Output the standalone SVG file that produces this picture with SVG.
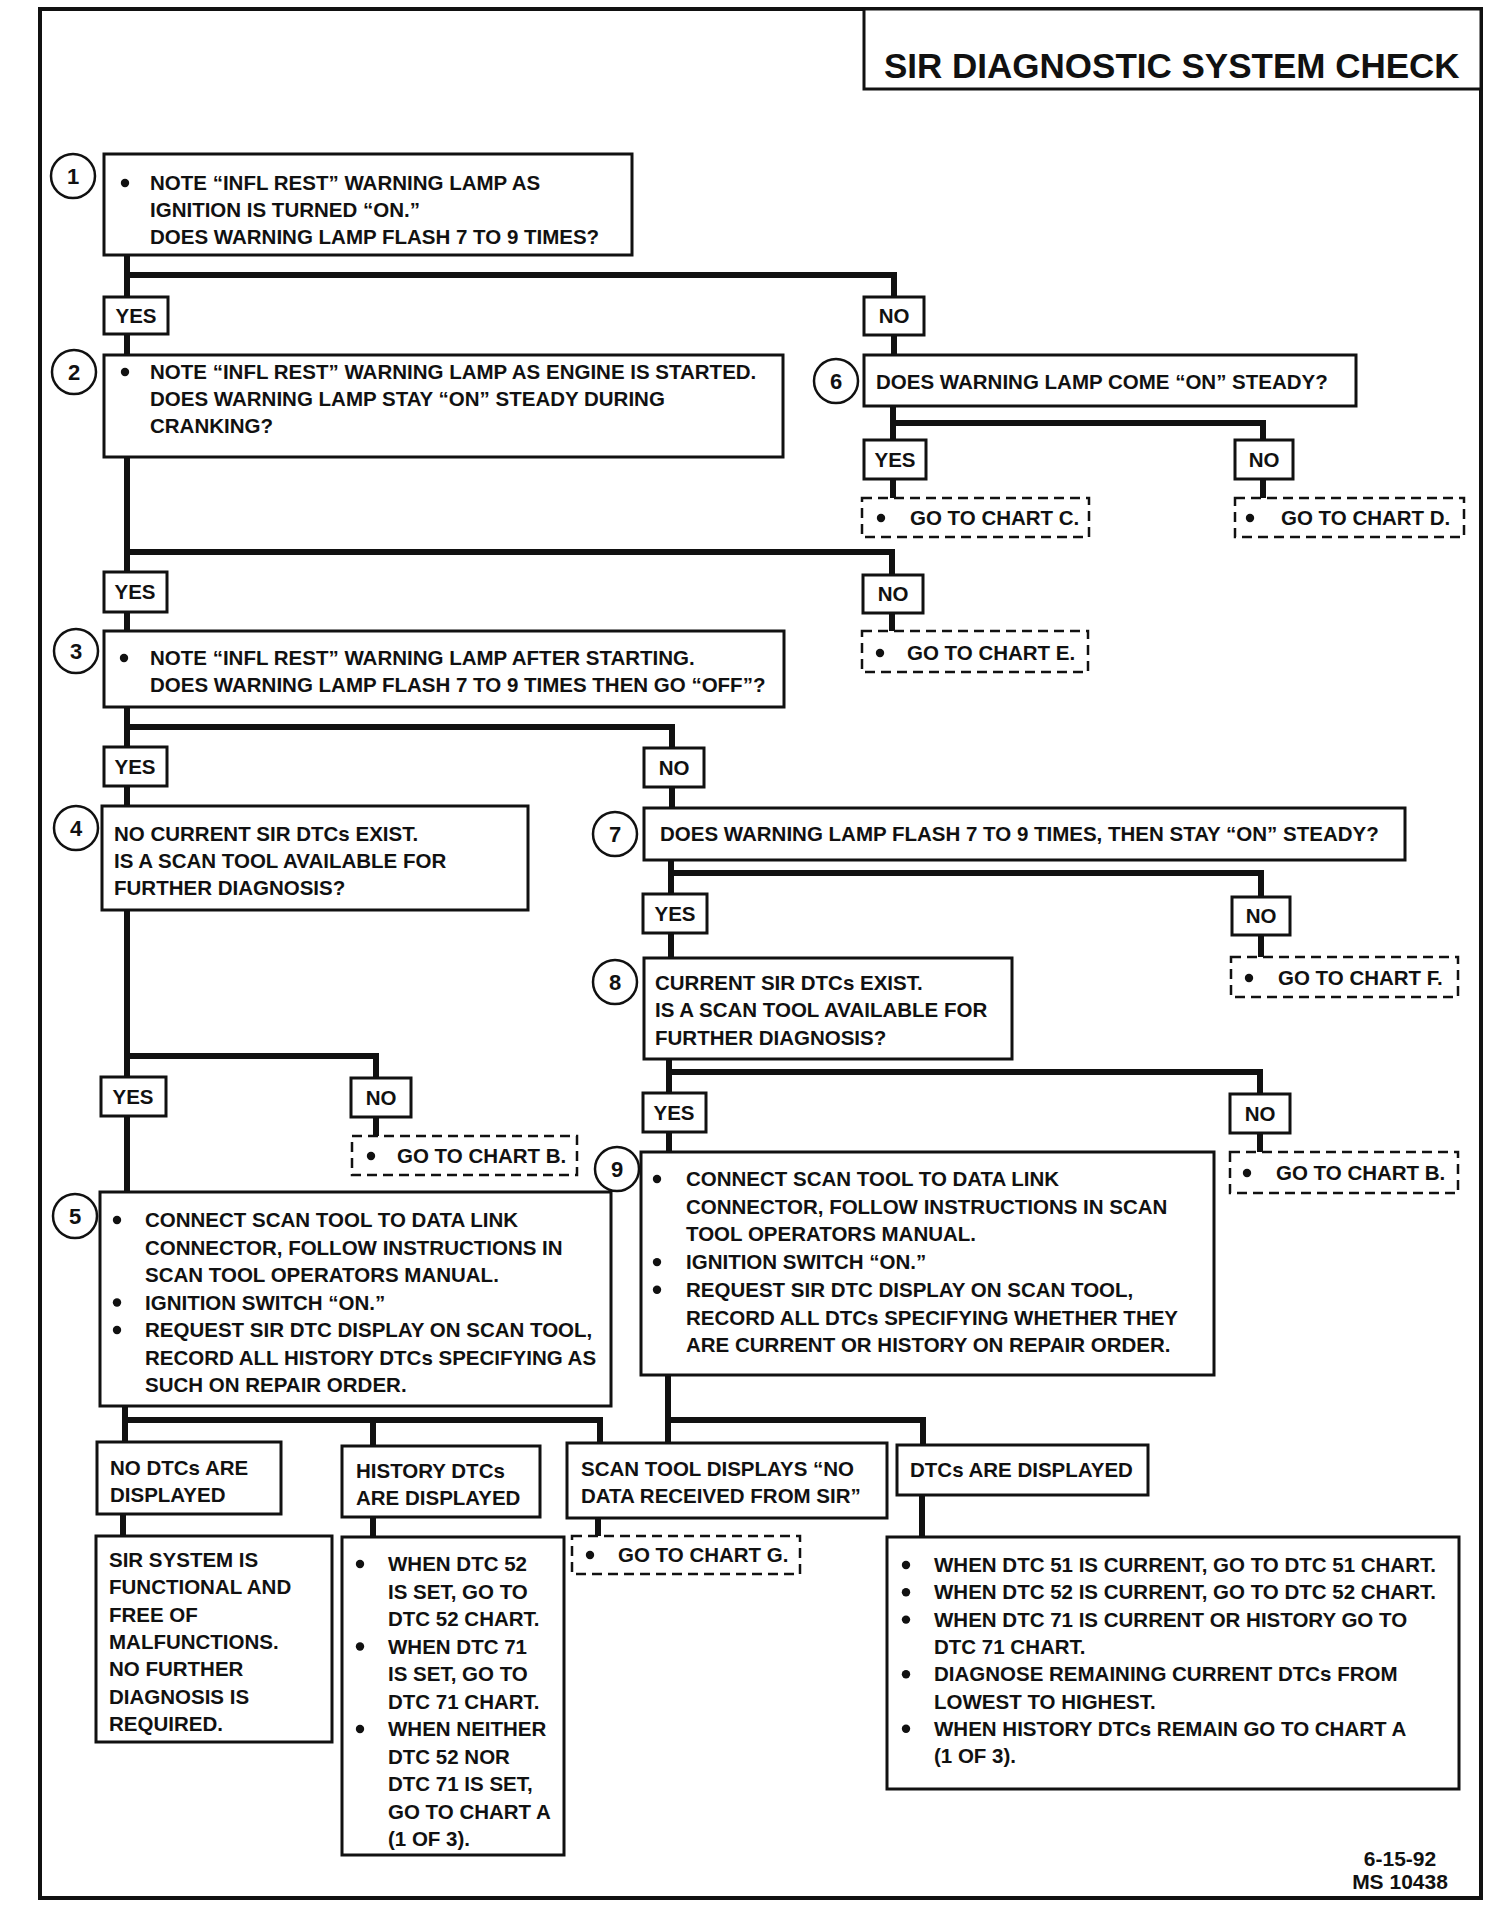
<svg xmlns="http://www.w3.org/2000/svg" width="1504" height="1912" viewBox="0 0 1504 1912">
<style>
text{font-family:"Liberation Sans",Arial,sans-serif;font-weight:bold;font-size:20.5px;fill:#111}
.box{fill:#fff;stroke:#111;stroke-width:3}
.dash{fill:#fff;stroke:#111;stroke-width:2.5;stroke-dasharray:10 6}
.conn{fill:none;stroke:#111;stroke-width:6}
.circ{fill:#fff;stroke:#111;stroke-width:2.5}
.bul{fill:#111}
.c{text-anchor:middle}
.num{text-anchor:middle;font-size:22px}
.title{font-size:35px}
.foot{font-size:21px;text-anchor:middle}
</style>
<rect x="0" y="0" width="1504" height="1912" fill="#fff"/>
<rect x="40" y="9" width="1441" height="1889" fill="none" stroke="#111" stroke-width="4"/>

<g id="connectors">
<path class="conn" d="M127,255 V355"/>
<path class="conn" d="M127,275 H894 V355"/>
<path class="conn" d="M127,457 V631"/>
<path class="conn" d="M127,552 H892 V631"/>
<path class="conn" d="M893,406 V498"/>
<path class="conn" d="M893,423 H1263 V498"/>
<path class="conn" d="M127,707 V806"/>
<path class="conn" d="M127,727 H672 V808"/>
<path class="conn" d="M671,860 V958"/>
<path class="conn" d="M671,873 H1261 V957"/>
<path class="conn" d="M669,1059 V1152"/>
<path class="conn" d="M669,1072 H1260 V1152"/>
<path class="conn" d="M127,910 V1192"/>
<path class="conn" d="M127,1056 H376 V1136"/>
<path class="conn" d="M125,1406 V1443"/>
<path class="conn" d="M125,1420 H600 V1445"/>
<path class="conn" d="M373,1420 V1447"/>
<path class="conn" d="M123,1513 V1536"/>
<path class="conn" d="M373,1516 V1538"/>
<path class="conn" d="M598,1517 V1537"/>
<path class="conn" d="M668,1375 V1445"/>
<path class="conn" d="M668,1420 H923 V1446"/>
<path class="conn" d="M922,1494 V1538"/>
</g>

<g id="title">
<rect class="box" x="864" y="9" width="617" height="80"/>
<text class="title" x="884" y="78">SIR DIAGNOSTIC SYSTEM CHECK</text>
</g>

<g id="step1">
<circle class="circ" cx="73" cy="176" r="22"/><text class="num" x="73" y="184">1</text>
<rect class="box" x="104" y="154" width="528" height="101"/>
<circle class="bul" cx="125" cy="183" r="4.2"/>
<text x="150" y="190">NOTE “INFL REST” WARNING LAMP AS</text>
<text x="150" y="217">IGNITION IS TURNED “ON.”</text>
<text x="150" y="244">DOES WARNING LAMP FLASH 7 TO 9 TIMES?</text>
</g>
<g id="yes1"><rect class="box" x="104" y="297" width="64" height="37"/><text class="c" x="136" y="323">YES</text></g>
<g id="no1"><rect class="box" x="864" y="297" width="60" height="38"/><text class="c" x="894" y="323">NO</text></g>

<g id="step2">
<circle class="circ" cx="74" cy="372" r="22"/><text class="num" x="74" y="380">2</text>
<rect class="box" x="104" y="355" width="679" height="102"/>
<circle class="bul" cx="125" cy="372" r="4.2"/>
<text x="150" y="379">NOTE “INFL REST” WARNING LAMP AS ENGINE IS STARTED.</text>
<text x="150" y="406">DOES WARNING LAMP STAY “ON” STEADY DURING</text>
<text x="150" y="433">CRANKING?</text>
</g>

<g id="step6">
<circle class="circ" cx="836" cy="381" r="22"/><text class="num" x="836" y="389">6</text>
<rect class="box" x="864" y="355" width="492" height="51"/>
<text x="876" y="389">DOES WARNING LAMP COME “ON” STEADY?</text>
</g>
<g id="yes6"><rect class="box" x="864" y="440" width="62" height="39"/><text class="c" x="895" y="467">YES</text></g>
<g id="no6"><rect class="box" x="1235" y="440" width="58" height="39"/><text class="c" x="1264" y="467">NO</text></g>
<g id="chartC"><rect class="dash" x="862" y="498" width="227" height="39"/><circle class="bul" cx="881" cy="518" r="4.2"/><text x="910" y="525">GO TO CHART C.</text></g>
<g id="chartD"><rect class="dash" x="1235" y="498" width="229" height="39"/><circle class="bul" cx="1250" cy="518" r="4.2"/><text x="1281" y="525">GO TO CHART D.</text></g>

<g id="yes2"><rect class="box" x="104" y="572" width="63" height="40"/><text class="c" x="135" y="599">YES</text></g>
<g id="no2"><rect class="box" x="863" y="575" width="60" height="38"/><text class="c" x="893" y="601">NO</text></g>
<g id="chartE"><rect class="dash" x="862" y="631" width="226" height="41"/><circle class="bul" cx="880" cy="653" r="4.2"/><text x="907" y="660">GO TO CHART E.</text></g>

<g id="step3">
<circle class="circ" cx="76" cy="651" r="22"/><text class="num" x="76" y="659">3</text>
<rect class="box" x="104" y="631" width="680" height="76"/>
<circle class="bul" cx="124" cy="658" r="4.2"/>
<text x="150" y="665">NOTE “INFL REST” WARNING LAMP AFTER STARTING.</text>
<text x="150" y="692">DOES WARNING LAMP FLASH 7 TO 9 TIMES THEN GO “OFF”?</text>
</g>
<g id="yes3"><rect class="box" x="104" y="747" width="63" height="39"/><text class="c" x="135" y="774">YES</text></g>
<g id="no3"><rect class="box" x="644" y="748" width="60" height="39"/><text class="c" x="674" y="775">NO</text></g>

<g id="step4">
<circle class="circ" cx="76" cy="828" r="22"/><text class="num" x="76" y="836">4</text>
<rect class="box" x="102" y="806" width="426" height="104"/>
<text x="114" y="841">NO CURRENT SIR DTCs EXIST.</text>
<text x="114" y="868">IS A SCAN TOOL AVAILABLE FOR</text>
<text x="114" y="895">FURTHER DIAGNOSIS?</text>
</g>

<g id="step7">
<circle class="circ" cx="615" cy="834" r="22"/><text class="num" x="615" y="842">7</text>
<rect class="box" x="644" y="808" width="761" height="52"/>
<text x="660" y="841">DOES WARNING LAMP FLASH 7 TO 9 TIMES, THEN STAY “ON” STEADY?</text>
</g>
<g id="yes7"><rect class="box" x="643" y="894" width="64" height="39"/><text class="c" x="675" y="921">YES</text></g>
<g id="no7"><rect class="box" x="1232" y="897" width="58" height="38"/><text class="c" x="1261" y="923">NO</text></g>
<g id="chartF"><rect class="dash" x="1231" y="957" width="227" height="40"/><circle class="bul" cx="1249" cy="978" r="4.2"/><text x="1278" y="985">GO TO CHART F.</text></g>

<g id="step8">
<circle class="circ" cx="615" cy="982" r="22"/><text class="num" x="615" y="990">8</text>
<rect class="box" x="644" y="958" width="368" height="101"/>
<text x="655" y="990">CURRENT SIR DTCs EXIST.</text>
<text x="655" y="1017">IS A SCAN TOOL AVAILABLE FOR</text>
<text x="655" y="1045">FURTHER DIAGNOSIS?</text>
</g>
<g id="yes8"><rect class="box" x="643" y="1093" width="63" height="39"/><text class="c" x="674" y="1120">YES</text></g>
<g id="no8"><rect class="box" x="1230" y="1094" width="60" height="39"/><text class="c" x="1260" y="1121">NO</text></g>
<g id="chartB2"><rect class="dash" x="1230" y="1152" width="228" height="41"/><circle class="bul" cx="1247" cy="1173" r="4.2"/><text x="1276" y="1180">GO TO CHART B.</text></g>

<g id="yes4"><rect class="box" x="101" y="1077" width="65" height="39"/><text class="c" x="133" y="1104">YES</text></g>
<g id="no4"><rect class="box" x="351" y="1078" width="60" height="39"/><text class="c" x="381" y="1105">NO</text></g>
<g id="chartB1"><rect class="dash" x="352" y="1136" width="225" height="39"/><circle class="bul" cx="371" cy="1156" r="4.2"/><text x="397" y="1163">GO TO CHART B.</text></g>

<g id="step5">
<circle class="circ" cx="75" cy="1216" r="22"/><text class="num" x="75" y="1224">5</text>
<rect class="box" x="100" y="1192" width="511" height="214"/>
<circle class="bul" cx="117" cy="1220" r="4.2"/>
<text x="145" y="1227">CONNECT SCAN TOOL TO DATA LINK</text>
<text x="145" y="1254.5">CONNECTOR, FOLLOW INSTRUCTIONS IN</text>
<text x="145" y="1282">SCAN TOOL OPERATORS MANUAL.</text>
<circle class="bul" cx="117" cy="1302.5" r="4.2"/>
<text x="145" y="1309.5">IGNITION SWITCH “ON.”</text>
<circle class="bul" cx="117" cy="1330" r="4.2"/>
<text x="145" y="1337">REQUEST SIR DTC DISPLAY ON SCAN TOOL,</text>
<text x="145" y="1364.5">RECORD ALL HISTORY DTCs SPECIFYING AS</text>
<text x="145" y="1392">SUCH ON REPAIR ORDER.</text>
</g>

<g id="step9">
<circle class="circ" cx="617" cy="1169" r="22"/><text class="num" x="617" y="1177">9</text>
<rect class="box" x="641" y="1152" width="573" height="223"/>
<circle class="bul" cx="657" cy="1179" r="4.2"/>
<text x="686" y="1186">CONNECT SCAN TOOL TO DATA LINK</text>
<text x="686" y="1213.7">CONNECTOR, FOLLOW INSTRUCTIONS IN SCAN</text>
<text x="686" y="1241.4">TOOL OPERATORS MANUAL.</text>
<circle class="bul" cx="657" cy="1262.1" r="4.2"/>
<text x="686" y="1269.1">IGNITION SWITCH “ON.”</text>
<circle class="bul" cx="657" cy="1289.8" r="4.2"/>
<text x="686" y="1296.8">REQUEST SIR DTC DISPLAY ON SCAN TOOL,</text>
<text x="686" y="1324.5">RECORD ALL DTCs SPECIFYING WHETHER THEY</text>
<text x="686" y="1352.2">ARE CURRENT OR HISTORY ON REPAIR ORDER.</text>
</g>

<g id="noDtcs">
<rect class="box" x="97" y="1442" width="184" height="72"/>
<text x="110" y="1475">NO DTCs ARE</text>
<text x="110" y="1502">DISPLAYED</text>
</g>
<g id="sirOk">
<rect class="box" x="96" y="1536" width="236" height="206"/>
<text x="109" y="1567">SIR SYSTEM IS</text>
<text x="109" y="1594.3">FUNCTIONAL AND</text>
<text x="109" y="1621.6">FREE OF</text>
<text x="109" y="1648.9">MALFUNCTIONS.</text>
<text x="109" y="1676.2">NO FURTHER</text>
<text x="109" y="1703.5">DIAGNOSIS IS</text>
<text x="109" y="1730.8">REQUIRED.</text>
</g>

<g id="historyDtcs">
<rect class="box" x="342" y="1446" width="198" height="71"/>
<text x="356" y="1478">HISTORY DTCs</text>
<text x="356" y="1505">ARE DISPLAYED</text>
</g>
<g id="historyList">
<rect class="box" x="342" y="1537" width="222" height="318"/>
<circle class="bul" cx="360" cy="1564" r="4.2"/>
<text x="388" y="1571">WHEN DTC 52</text>
<text x="388" y="1598.5">IS SET, GO TO</text>
<text x="388" y="1626">DTC 52 CHART.</text>
<circle class="bul" cx="360" cy="1646.5" r="4.2"/>
<text x="388" y="1653.5">WHEN DTC 71</text>
<text x="388" y="1681">IS SET, GO TO</text>
<text x="388" y="1708.5">DTC 71 CHART.</text>
<circle class="bul" cx="360" cy="1729" r="4.2"/>
<text x="388" y="1736">WHEN NEITHER</text>
<text x="388" y="1763.5">DTC 52 NOR</text>
<text x="388" y="1791">DTC 71 IS SET,</text>
<text x="388" y="1818.5">GO TO CHART A</text>
<text x="388" y="1846">(1 OF 3).</text>
</g>

<g id="noData">
<rect class="box" x="567" y="1443" width="320" height="75"/>
<text x="581" y="1476">SCAN TOOL DISPLAYS “NO</text>
<text x="581" y="1503">DATA RECEIVED FROM SIR”</text>
</g>
<g id="chartG"><rect class="dash" x="572" y="1536" width="228" height="38"/><circle class="bul" cx="590" cy="1555" r="4.2"/><text x="618" y="1562">GO TO CHART G.</text></g>

<g id="dtcsDisplayed">
<rect class="box" x="897" y="1445" width="251" height="50"/>
<text x="910" y="1477">DTCs  ARE DISPLAYED</text>
</g>
<g id="dtcList">
<rect class="box" x="887" y="1537" width="572" height="252"/>
<circle class="bul" cx="906" cy="1565" r="4.2"/>
<text x="934" y="1572">WHEN DTC 51 IS CURRENT, GO TO DTC 51 CHART.</text>
<circle class="bul" cx="906" cy="1592.3" r="4.2"/>
<text x="934" y="1599.3">WHEN DTC 52 IS CURRENT, GO TO DTC 52 CHART.</text>
<circle class="bul" cx="906" cy="1619.6" r="4.2"/>
<text x="934" y="1626.6">WHEN DTC 71 IS CURRENT OR HISTORY GO TO</text>
<text x="934" y="1653.9">DTC 71 CHART.</text>
<circle class="bul" cx="906" cy="1674.2" r="4.2"/>
<text x="934" y="1681.2">DIAGNOSE REMAINING CURRENT DTCs FROM</text>
<text x="934" y="1708.5">LOWEST TO HIGHEST.</text>
<circle class="bul" cx="906" cy="1728.8" r="4.2"/>
<text x="934" y="1735.8">WHEN HISTORY DTCs REMAIN GO TO CHART A</text>
<text x="934" y="1763.1">(1 OF 3).</text>
</g>

<g id="footer">
<text class="foot" x="1400" y="1866">6-15-92</text>
<text class="foot" x="1400" y="1889">MS 10438</text>
</g>
</svg>
